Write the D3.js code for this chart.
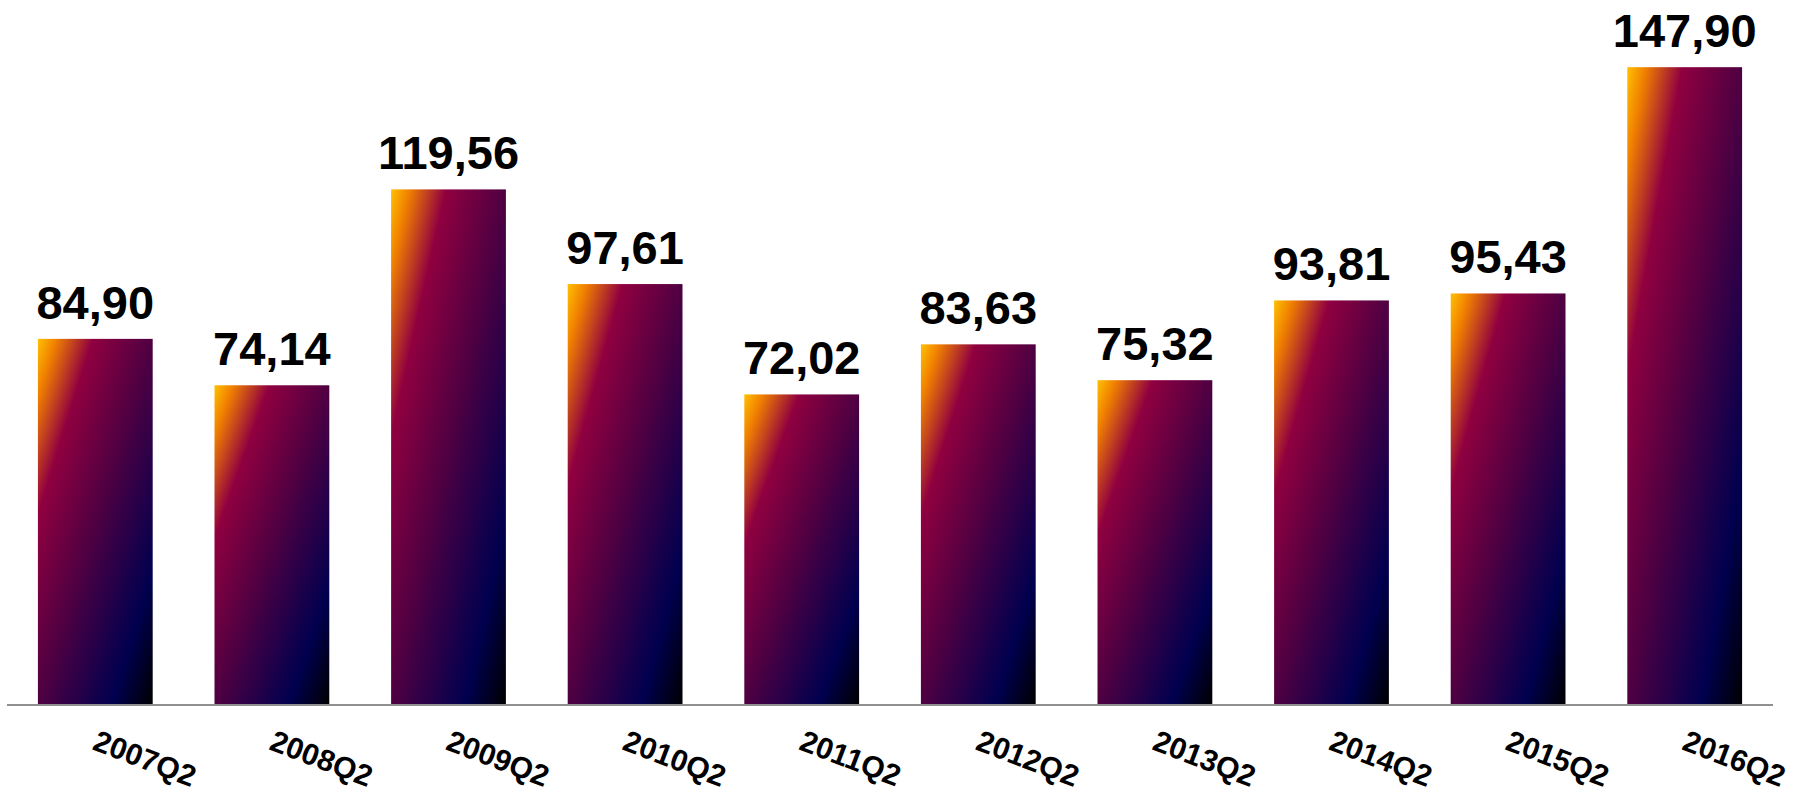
<!DOCTYPE html>
<html>
<head>
<meta charset="utf-8">
<script src="https://cdn.jsdelivr.net/npm/d3@7"></script>
<style>
	body { margin: 0; background: #fff; }
	text { font-family: "Liberation Sans", Arial, sans-serif; font-weight: bold; }
</style>
</head>
<body>
<script>
var periods = ["2007Q2", "2008Q2", "2009Q2", "2010Q2", "2011Q2", "2012Q2", "2013Q2", "2014Q2", "2015Q2", "2016Q2"];
var values = [84.90, 74.14, 119.56, 97.61, 72.02, 83.63, 75.32, 93.81, 95.43, 147.90];

var width = 1806;//px
var height = 797;//px
var axisY = 705;

var svg = d3.select("body")
			.append("svg")
			.attr("width", width)
			.attr("height", height);

var defs = svg.append("defs");

// diagonal gradient, same look on every bar
var grad = defs.append("linearGradient")
			.attr("id", "barGrad")
			.attr("x1", 0).attr("y1", 0)
			.attr("x2", 1).attr("y2", 1);
[[0, "#FFC000"], [0.08, "#F08000"], [0.24, "#900040"], [0.5, "#4F0042"], [0.82, "#00004F"], [1, "#000000"]]
	.forEach(function(s){
		grad.append("stop").attr("offset", s[0]).attr("stop-color", s[1]);
	});

var x = d3.scaleBand()
			.domain(periods)
			.range([7, 1773])
			.paddingInner(0.35)
			.paddingOuter(0.175);

var y = d3.scaleLinear()
			.domain([0, 160])
			.range([axisY, 15]);

var bars = svg.append("g").attr("class", "bars");

bars.selectAll("rect")
	.data(values)
	.enter()
	.append("rect")
	.attr("x", function(d, i){ return x(periods[i]); })
	.attr("y", function(d){ return y(d); })
	.attr("width", x.bandwidth())
	.attr("height", function(d){ return y(0) - y(d); })
	.attr("fill", "url(#barGrad)");

svg.append("g").selectAll("text")
	.data(values)
	.enter()
	.append("text")
	.attr("x", function(d, i){ return x(periods[i]) + x.bandwidth() / 2; })
	.attr("y", function(d){ return y(d) - 20; })
	.attr("text-anchor", "middle")
	.attr("font-size", 47)
	.attr("fill", "#000")
	.text(function(d){ return d.toFixed(2).replace(".", ","); });

svg.append("line")
	.attr("x1", x.range()[0])
	.attr("x2", x.range()[1])
	.attr("y1", axisY)
	.attr("y2", axisY)
	.attr("stroke", "#909090")
	.attr("stroke-width", 2);

// period labels, tilted down to the right
svg.append("g").selectAll("text")
	.data(periods)
	.enter()
	.append("text")
	.attr("transform", function(d){
		return "translate(" + (x(d) + x.bandwidth() / 2 - 4) + "," + (axisY + 44) + ") rotate(21)";
	})
	.attr("font-size", 30)
	.attr("fill", "#000")
	.text(function(d){ return d; });
</script>
</body>
</html>
